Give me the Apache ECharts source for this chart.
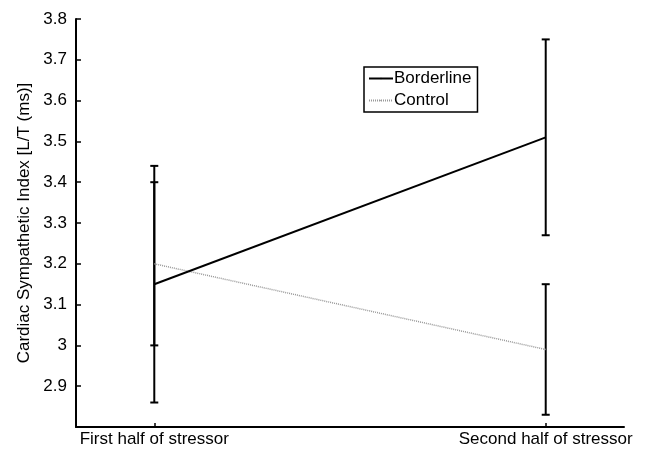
<!DOCTYPE html>
<html>
<head>
<meta charset="utf-8">
<script src="https://cdn.jsdelivr.net/npm/echarts@6/dist/echarts.min.js"></script>
<style>html,body{margin:0;padding:0;background:#fff}#c{width:648px;height:453px}</style>
</head>
<body>
<div id="c"></div>
<script>
var categories = ['First half of stressor', 'Second half of stressor'];
var xPositions = [1, 2];
var borderlineMean = [3.15, 3.51];
var borderlineLow = [2.86, 3.27];
var borderlineHigh = [3.44, 3.75];
var controlMean = [3.20, 2.99];
var controlLow = [3.00, 2.83];
var controlHigh = [3.40, 3.15];
var yTicks = [2.9, 3, 3.1, 3.2, 3.3, 3.4, 3.5, 3.6, 3.7, 3.8];

var font = 'Liberation Sans, Arial, sans-serif';

function pairs(xs, ys) { return xs.map(function (x, i) { return [x, ys[i]]; }); }
function errData(xs, lo, hi) { return xs.map(function (x, i) { return [x, lo[i], hi[i]]; }); }

function renderErr(params, api) {
  var x = api.value(0);
  var lo = api.coord([x, api.value(1)]);
  var hi = api.coord([x, api.value(2)]);
  var hw = 4;
  var st = { stroke: '#000', lineWidth: 2 };
  return {
    type: 'group',
    children: [
      { type: 'line', shape: { x1: lo[0], y1: lo[1], x2: hi[0], y2: hi[1] }, style: st },
      { type: 'line', shape: { x1: lo[0] - hw, y1: lo[1], x2: lo[0] + hw, y2: lo[1] }, style: st },
      { type: 'line', shape: { x1: hi[0] - hw, y1: hi[1], x2: hi[0] + hw, y2: hi[1] }, style: st }
    ]
  };
}

var chart = echarts.init(document.getElementById('c'), null, { renderer: 'canvas' });
chart.setOption({
  animation: false,
  backgroundColor: '#fff',
  grid: { left: 76, right: 24, top: 19, bottom: 26, containLabel: false },
  legend: {
    data: ['Borderline', 'Control'],
    orient: 'vertical',
    left: 364,
    top: 67,
    itemWidth: 24,
    itemHeight: 2,
    itemGap: 5,
    padding: [3, 6, 3, 4],
    borderColor: '#000',
    borderWidth: 1.5,
    textStyle: { fontFamily: font, fontSize: 17, color: '#000', padding: [0, 0, 0, -4] }
  },
  xAxis: {
    type: 'value',
    min: 0.8,
    max: 2.2,
    splitLine: { show: false },
    axisLine: { lineStyle: { color: '#000', width: 2 } },
    axisTick: { show: true, inside: true, length: 4, customValues: xPositions, lineStyle: { color: '#000', width: 1.5 } },
    axisLabel: {
      customValues: xPositions,
      formatter: function (v) { var i = xPositions.indexOf(v); return i >= 0 ? categories[i] : ''; },
      fontFamily: font, fontSize: 17, color: '#000', margin: 4
    }
  },
  yAxis: {
    type: 'value',
    min: 2.8,
    max: 3.8,
    name: 'Cardiac Sympathetic Index [L/T (ms)]',
    nameLocation: 'middle',
    nameGap: 42,
    nameTextStyle: { fontFamily: font, fontSize: 17, color: '#000' },
    splitLine: { show: false },
    axisLine: { show: true, lineStyle: { color: '#000', width: 2 } },
    axisTick: { show: true, inside: true, length: 5, customValues: yTicks, lineStyle: { color: '#000', width: 1.5 } },
    axisLabel: {
      customValues: yTicks,
      fontFamily: font, fontSize: 17, color: '#000', margin: 9
    }
  },
  series: [
    {
      name: 'BorderlineErr', type: 'custom', renderItem: renderErr,
      data: errData(xPositions, borderlineLow, borderlineHigh), z: 1, silent: true
    },
    {
      name: 'ControlErr', type: 'custom', renderItem: renderErr,
      data: errData(xPositions, controlLow, controlHigh), z: 1, silent: true
    },
    {
      name: 'Borderline', type: 'line', data: pairs(xPositions, borderlineMean),
      symbol: 'none', color: '#000',
      lineStyle: { color: '#000', width: 2 }, z: 3
    },
    {
      name: 'Control', type: 'line', data: pairs(xPositions, controlMean),
      symbol: 'none', color: '#999',
      lineStyle: { color: '#999', width: 1.5, type: [1, 1] }, z: 2
    }
  ]
});
</script>
</body>
</html>
